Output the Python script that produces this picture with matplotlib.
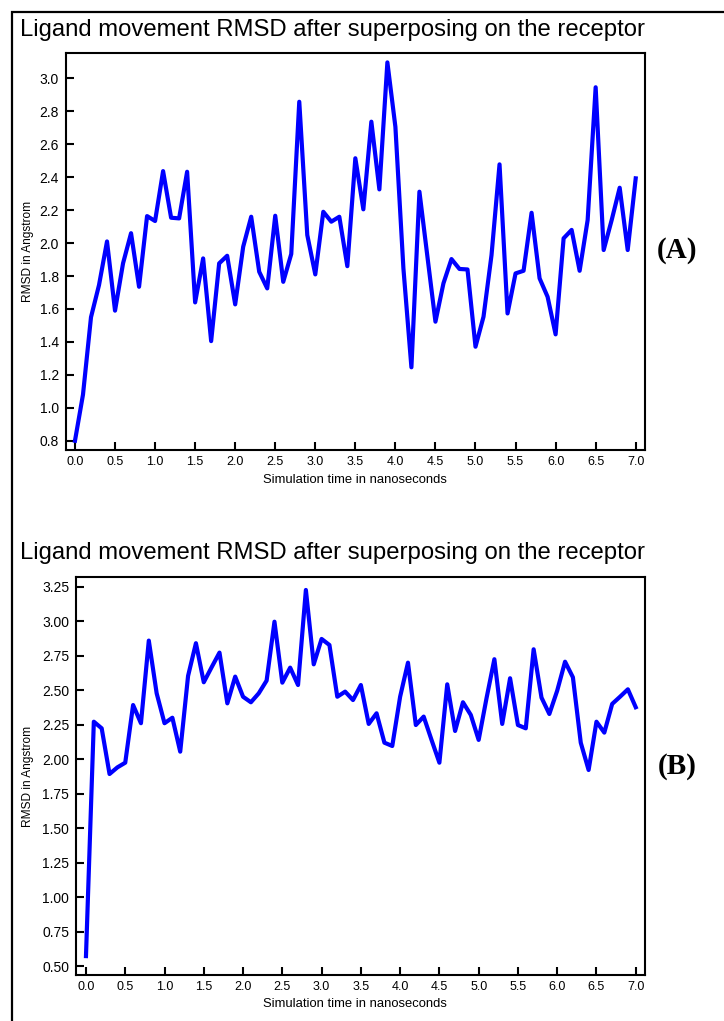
import matplotlib
matplotlib.use("Agg")
import matplotlib.pyplot as plt
from matplotlib.patches import Rectangle
import numpy as np

time_ns = [round(0.1 * i, 1) for i in range(71)]

rmsd_A = [0.80, 1.08, 1.55, 1.745, 2.01, 1.59, 1.877, 2.06, 1.735, 2.164,
          2.134, 2.437, 2.154, 2.15, 2.433, 1.64, 1.907, 1.405, 1.877, 1.923,
          1.628, 1.978, 2.16, 1.826, 1.725, 2.166, 1.765, 1.934, 2.858, 2.049,
          1.81, 2.19, 2.13, 2.16, 1.86, 2.515, 2.205, 2.737, 2.326, 3.097,
          2.706, 1.847, 1.246, 2.312, 1.917, 1.523, 1.756, 1.903, 1.843, 1.84,
          1.371, 1.553, 1.927, 2.478, 1.573, 1.816, 1.832, 2.184, 1.786, 1.674,
          1.446, 2.029, 2.08, 1.832, 2.14, 2.946, 1.958, 2.14, 2.336, 1.958,
          2.393]

rmsd_B = [0.572, 2.271, 2.223, 1.892, 1.94, 1.974, 2.392, 2.26, 2.859, 2.477,
          2.26, 2.30, 2.054, 2.603, 2.84, 2.557, 2.666, 2.772, 2.404, 2.598,
          2.452, 2.412, 2.477, 2.569, 2.996, 2.554, 2.663, 2.537, 3.226, 2.687,
          2.871, 2.827, 2.452, 2.489, 2.428, 2.537, 2.255, 2.332, 2.119, 2.095,
          2.452, 2.699, 2.247, 2.308, 2.139, 1.974, 2.542, 2.204, 2.412, 2.32,
          2.139, 2.441, 2.724, 2.255, 2.586, 2.247, 2.223, 2.796, 2.446, 2.327,
          2.496, 2.706, 2.593, 2.119, 1.921, 2.271, 2.192, 2.40, 2.452, 2.506,
          2.376]

title_text = "Ligand movement RMSD after superposing on the receptor"
xlabel_text = "Simulation time in nanoseconds"
ylabel_text = "RMSD in Angstrom"
xticks = [0.5 * i for i in range(15)]
yticks_A = [0.8 + 0.2 * i for i in range(12)]
yticks_B = [0.5 + 0.25 * i for i in range(12)]

W, H = 724, 1021
fig = plt.figure(figsize=(W / 100, H / 100), dpi=100)

sans = ["Liberation Sans", "DejaVu Sans"]
serif = ["Liberation Serif", "DejaVu Serif"]

def px_axes(l, t, r, b):
    return fig.add_axes([l / W, 1 - b / H, (r - l) / W, (b - t) / H])

# outer border
fig.patches.append(Rectangle((12 / W, -0.05), 1.2, 1 - 12 / H + 0.05,
                             transform=fig.transFigure, fill=False,
                             edgecolor="black", linewidth=1.6))

def style(ax, yt, yfmt, xlim, ylim):
    ax.set_xlim(*xlim)
    ax.set_ylim(*ylim)
    ax.set_xticks(xticks)
    ax.set_xticklabels([f"{v:.1f}" for v in xticks], family=sans, fontsize=9)
    ax.set_yticks(yt)
    ax.set_yticklabels([yfmt.format(v) for v in yt], family=sans, fontsize=10)
    ax.tick_params(direction="in", length=6, width=1.5, pad=4)
    ax.tick_params(axis="y", pad=5)
    for s in ax.spines.values():
        s.set_linewidth(1.5)

def place_labels(ax, l, r, t, b, ylab_x, xlab_y):
    ax.set_xlabel(xlabel_text, family=sans, fontsize=9.4)
    ax.set_ylabel(ylabel_text, family=sans, fontsize=8.6)
    ax.xaxis.set_label_coords((355 - l) / (r - l), (b - xlab_y) / (b - t))
    ax.yaxis.set_label_coords((ylab_x - l) / (r - l), 0.5)
    ax.xaxis.label.set_va("center")
    ax.yaxis.label.set_va("center")

axA = px_axes(66, 53, 645, 450)
axA.plot(time_ns, rmsd_A, color="#0000ff", linewidth=3.0)
style(axA, yticks_A, "{:.1f}", (-0.112, 7.116), (0.744, 3.154))
place_labels(axA, 66, 645, 53, 450, 28, 480)

axB = px_axes(76, 577, 645, 975)
axB.plot(time_ns, rmsd_B, color="#0000ff", linewidth=3.0)
style(axB, yticks_B, "{:.2f}", (-0.127, 7.118), (0.435, 3.32))
place_labels(axB, 76, 645, 577, 975, 28, 1004)

fig.text(20 / W, 1 - 30 / H, title_text, family=sans, fontsize=17.2,
         ha="left", va="center")
fig.text(20 / W, 1 - 553 / H, title_text, family=sans, fontsize=17.2,
         ha="left", va="center")

fig.text(677 / W, 1 - 251 / H, "(A)", family=serif,
         fontweight="bold", fontsize=21, ha="center", va="center")
fig.text(677 / W, 1 - 766 / H, "(B)", family=serif,
         fontweight="bold", fontsize=21, ha="center", va="center")

fig.savefig("out.png", dpi=100)
